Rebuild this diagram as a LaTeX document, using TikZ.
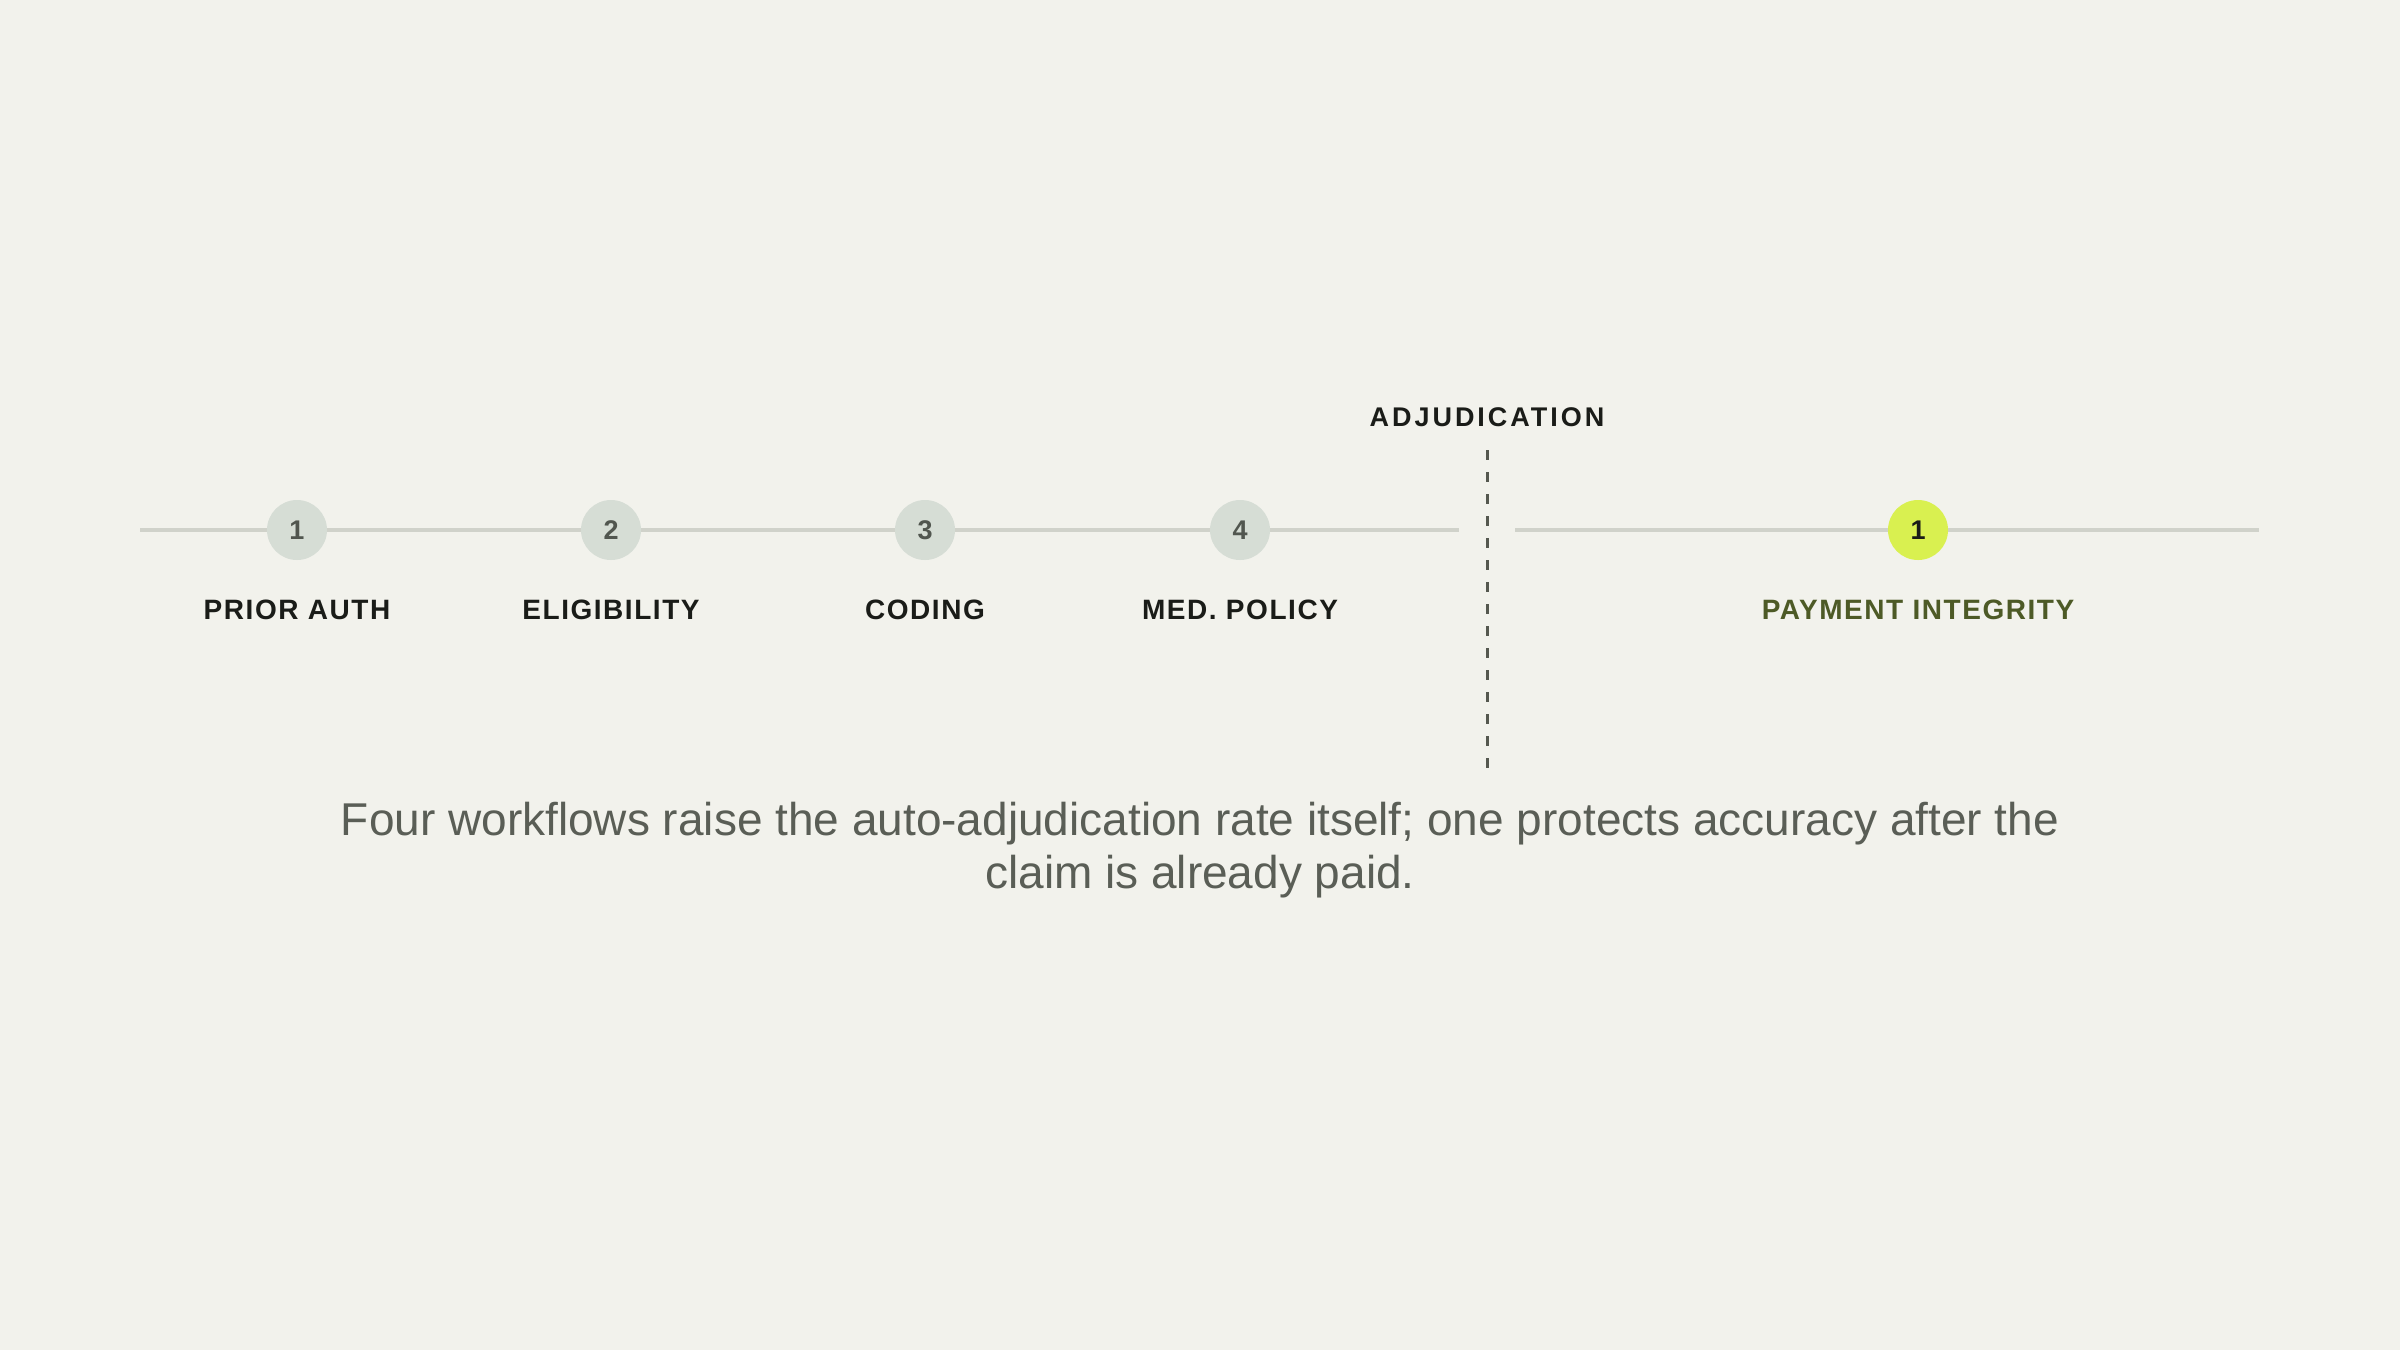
\documentclass[tikz,border=0pt]{standalone}
\usepackage{fontspec}
\setmainfont{Liberation Sans}
\newfontfamily\labfont[LetterSpace=5.5]{Liberation Sans}
\newfontfamily\adjfont[LetterSpace=11]{Liberation Sans}
\definecolor{bgc}{HTML}{F2F2EC}
\definecolor{trackc}{HTML}{D0D2CA}
\definecolor{stepfill}{HTML}{D6DDD5}
\definecolor{numc}{HTML}{51564F}
\definecolor{labc}{HTML}{1A1C18}
\definecolor{limec}{HTML}{D9F050}
\definecolor{olivec}{HTML}{4D5A26}
\definecolor{dashc}{HTML}{55584F}
\definecolor{capc}{HTML}{5A5E56}
\tikzset{
  track/.style={draw=trackc, line width=3.5pt},
  stepdot/.style={circle, fill=stepfill, minimum size=60pt, inner sep=0pt, text=numc, font=\fontsize{27}{30}\selectfont\bfseries},
  hotdot/.style={stepdot, fill=limec, text=labc},
  steplabel/.style={text=labc, inner sep=0pt, font=\labfont\fontsize{28}{34}\selectfont\bfseries},
  hotlabel/.style={steplabel, text=olivec},
  divider/.style={draw=dashc, line width=3pt, dash pattern=on 10pt off 12pt},
  adjlabel/.style={text=labc, inner sep=0pt, font=\adjfont\fontsize{27}{32}\selectfont\bfseries},
  caption/.style={text=capc, inner sep=0pt, align=center, font=\fontsize{46}{53}\selectfont}
}
\begin{document}
\begin{tikzpicture}[x=1pt,y=-1pt]
\fill[bgc] (0,0) rectangle (2400,1350);
\useasboundingbox (0,0) rectangle (2400,1350);
\coordinate (l0) at (140,530);
\coordinate (l1) at (1459,530);
\coordinate (r0) at (1515,530);
\coordinate (r1) at (2259,530);
\draw[track] (l0) -- (l1);
\draw[track] (r0) -- (r1);
\node[stepdot] (c1) at (297,530) {1};
\node[stepdot] (c2) at (611,530) {2};
\node[stepdot] (c3) at (925,530) {3};
\node[stepdot] (c4) at (1240,530) {4};
\node[hotdot] (c5) at (1918,530) {1};
\node[steplabel] (t1) at (297,610) {PRIOR AUTH};
\node[steplabel] (t2) at (611,610) {ELIGIBILITY};
\node[steplabel] (t3) at (925,610) {CODING};
\node[steplabel] (t4) at (1240,610) {MED. POLICY};
\node[hotlabel] (t5) at (1918,610) {PAYMENT INTEGRITY};
\coordinate (d0) at (1487,450);
\coordinate (d1) at (1487,768);
\draw[divider] (d0) -- (d1);
\node[adjlabel] (adj) at (1487,417) {ADJUDICATION};
\node[caption] (cap) at (1200,850) {Four workflows raise the auto-adjudication rate itself; one protects accuracy after the\\claim is already paid.};
\end{tikzpicture}
\end{document}
